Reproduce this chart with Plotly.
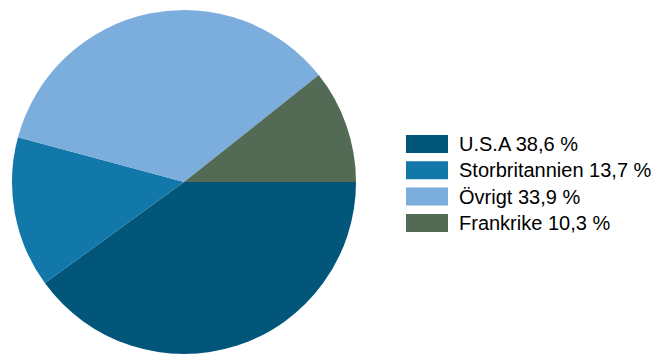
import plotly.graph_objects as go

# Regional allocation (share of holdings, %)
regions = ["U.S.A", "Storbritannien", "Övrigt", "Frankrike"]
shares = [38.6, 13.7, 33.9, 10.3]
colors = ["#02567A", "#1277A9", "#7BAEDC", "#536B54"]

W, H = 659, 354

# Pie placement (pixels)
cx, top = 184, 10
r = (H - top) / 2

fig = go.Figure(
    go.Pie(
        labels=regions,
        values=shares,
        marker=dict(colors=colors, line=dict(width=0)),
        sort=False,
        direction="clockwise",
        rotation=90,
        textinfo="none",
        hoverinfo="label+percent",
        showlegend=False,
        domain=dict(x=[(cx - r) / W, (cx + r) / W], y=[0, 1 - top / H]),
    )
)

# Legend: coloured swatch plus label for each region
sw_x0, sw_x1 = 406, 448
sw_h = 18
row0, row_step = 144, 26.3
text_x = 457

shapes, annotations = [], []
for i, (name, val, col) in enumerate(zip(regions, shares, colors)):
    yc = row0 + i * row_step
    shapes.append(dict(
        type="rect", xref="paper", yref="paper",
        x0=sw_x0 / W, x1=sw_x1 / W,
        y0=1 - (yc + sw_h / 2) / H, y1=1 - (yc - sw_h / 2) / H,
        fillcolor=col, line=dict(width=0),
    ))
    pct = f"{val:.1f}".replace(".", ",")
    annotations.append(dict(
        xref="paper", yref="paper", x=text_x / W, y=1 - yc / H,
        xanchor="left", yanchor="middle", showarrow=False,
        text=f"{name} {pct} %",
        font=dict(family="Liberation Sans, Arial, sans-serif", size=20, color="#000000"),
    ))

fig.update_layout(
    width=W, height=H,
    margin=dict(l=0, r=0, t=0, b=0),
    paper_bgcolor="white", plot_bgcolor="white",
    shapes=shapes, annotations=annotations,
)

fig.write_html("out.html")
